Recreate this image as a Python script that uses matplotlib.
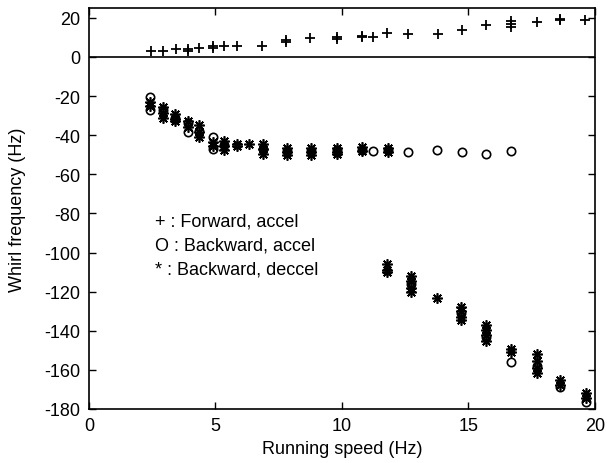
import matplotlib
matplotlib.use("Agg")
import matplotlib.pyplot as plt

plt.rcParams['font.family'] = ['Liberation Sans', 'DejaVu Sans']
plt.rcParams['axes.unicode_minus'] = False

# Forward, accel (+)
fwd_x = [2.45, 2.91, 3.43, 3.90, 3.90, 4.36, 4.89, 4.89, 5.35, 5.85, 6.85, 7.80, 7.80,
         8.75, 9.79, 9.79, 10.78, 10.78, 11.24, 11.77, 12.62, 13.78, 14.73, 15.68,
         16.67, 16.67, 16.67, 17.69, 18.60, 18.60, 19.60]
fwd_y = [2.9, 2.9, 4.1, 3.0, 3.9, 4.6, 4.7, 5.4, 5.8, 5.8, 5.8, 7.4, 8.6,
         9.7, 9.2, 10.2, 10.0, 10.5, 10.2, 12.3, 11.9, 11.9, 14.0, 16.2,
         15.5, 17.0, 18.5, 17.9, 18.8, 19.4, 19.1]

# Backward, accel (O)
bwa_x = [2.41, 2.41, 2.91, 3.40, 3.90, 3.90, 4.36, 4.89, 4.89, 5.35, 6.86, 7.81,
         8.76, 9.79, 10.78, 11.24, 11.80, 12.62, 13.74, 14.73, 15.68, 16.67,
         12.71, 14.70, 15.68, 16.67, 17.69, 18.62, 19.63]
bwa_y = [-20.5, -27.0, -27.0, -31.0, -34.0, -38.5, -38.0, -41.0, -47.0, -45.0, -47.0, -48.0,
         -48.0, -47.5, -47.5, -48.2, -47.8, -48.8, -47.7, -48.5, -49.6, -48.2,
         -116.0, -131.0, -143.0, -156.0, -158.0, -169.0, -176.5]

# Backward, deccel (*)
bwd_x = [2.41, 2.41, 2.91, 2.91, 2.91, 3.40, 3.40, 3.40, 3.90, 3.90, 4.36, 4.36, 4.36,
         4.89, 4.89, 5.35, 5.35, 5.35, 5.84, 5.84, 6.33, 6.86, 6.86, 6.86,
         7.81, 7.81, 7.81, 8.76, 8.76, 8.76, 9.79, 9.79, 9.79, 10.78, 10.78, 11.80, 11.80,
         11.77, 11.77, 11.77, 12.71, 12.71, 12.71, 12.71, 13.74,
         14.70, 14.70, 14.70, 14.70, 15.68, 15.68, 15.68, 15.68, 16.67, 16.67,
         17.69, 17.69, 17.69, 17.69, 18.62, 18.62, 19.63, 19.63]
bwd_y = [-23.0, -25.0, -25.5, -28.5, -31.0, -29.0, -32.0, -33.0, -33.0, -36.0, -35.0, -38.5, -41.0,
         -43.5, -45.5, -43.0, -45.5, -47.5, -44.5, -45.5, -44.5, -44.5, -47.0, -49.5,
         -46.5, -48.5, -50.0, -46.5, -48.5, -50.0, -46.5, -48.5, -49.5, -46.0, -48.0, -46.5, -48.5,
         -106.0, -109.0, -110.0, -112.0, -114.5, -118.0, -120.0, -123.5,
         -128.0, -130.0, -133.0, -134.5, -137.0, -139.5, -142.0, -145.0, -149.5, -151.0,
         -152.0, -155.5, -159.0, -161.5, -165.0, -167.5, -172.0, -174.5]

x_ticks = [0, 5, 10, 15, 20]
y_ticks = [-180, -160, -140, -120, -100, -80, -60, -40, -20, 0, 20]
legend_lines = ["+ : Forward, accel", "O : Backward, accel", "* : Backward, deccel"]

fig = plt.figure(figsize=(6.07, 4.64), dpi=100)
ax = fig.add_axes([0.1466, 0.1164, 0.8336, 0.8642])

ax.axhline(0, color='black', linewidth=1.2)
ax.plot(fwd_x, fwd_y, linestyle='none', marker='+', markersize=7.5, markeredgewidth=1.3, color='black')
ax.plot(bwa_x, bwa_y, linestyle='none', marker='o', markersize=6, markeredgewidth=1.2,
        markerfacecolor='white', markeredgecolor='black')
ax.plot(bwd_x, bwd_y, linestyle='none', marker=(8, 2, 0), markersize=7.5, markeredgewidth=1.2, color='black')

ax.set_xlim(0, 20)
ax.set_ylim(-180, 25)
ax.set_xticks(x_ticks)
ax.set_yticks(y_ticks)
ax.tick_params(direction='in', length=5, width=1, top=True, right=True, labelsize=13, pad=6)
for s in ax.spines.values():
    s.set_linewidth(1.2)

ax.set_xlabel('Running speed (Hz)', fontsize=13, labelpad=4)
ax.set_ylabel('Whirl frequency (Hz)', fontsize=13, labelpad=13)

for i, t in enumerate(legend_lines):
    ax.text(2.62, -83.7 - 12.4 * i, t, fontsize=13, va='center', ha='left')

fig.savefig('out.png', dpi=100)
